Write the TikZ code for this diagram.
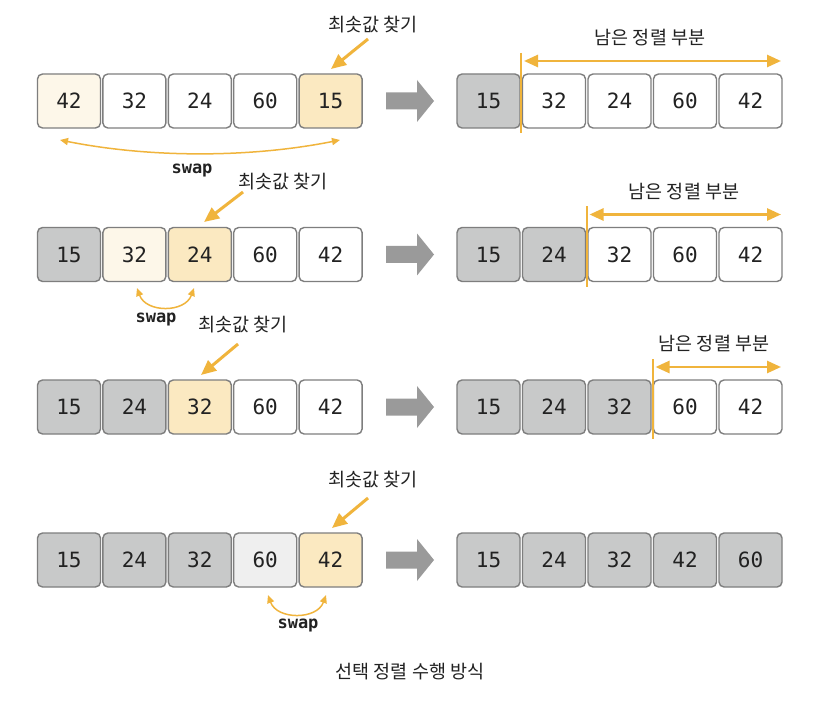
\documentclass[tikz,border=0pt]{standalone}
\usepackage{fontspec}
\setmonofont{DejaVu Sans Mono}
\newfontfamily\kr{Noto Sans CJK KR}
\usetikzlibrary{arrows.meta}
\definecolor{boxline}{HTML}{7E7E7E}
\definecolor{donegray}{HTML}{C8C9C9}
\definecolor{lightyel}{HTML}{FDF7E9}
\definecolor{midyel}{HTML}{FBE9C1}
\definecolor{pale}{HTML}{EFEFEF}
\definecolor{orng}{HTML}{F0B43C}
\definecolor{arrgray}{HTML}{9A9A9A}
\definecolor{txt}{HTML}{222222}
\tikzset{
  cell/.style={draw=boxline, line width=1.4pt, rounded corners=5pt, minimum width=63pt, minimum height=54pt, inner sep=0pt, font=\ttfamily\fontsize{21}{21}\selectfont, text=txt, fill=white},
  krlab/.style={font=\kr\fontsize{18.5}{18.5}\selectfont, text=txt, inner sep=0pt},
  swaplab/.style={font=\ttfamily\bfseries\fontsize{17}{17}\selectfont, text=txt, inner sep=0pt},
  findarr/.style={draw=orng, line width=3pt, -{Triangle[length=15pt,width=13pt]}, shorten >=0pt},
  restarr/.style={draw=orng, line width=2.6pt, {Triangle[length=14pt,width=12pt]}-{Triangle[length=14pt,width=12pt]}},
  divline/.style={draw=orng, line width=2pt},
  swaparr/.style={draw=orng, line width=1.5pt, {Triangle[length=8pt,width=7pt]}-{Triangle[length=8pt,width=7pt]}},
  bigarr/.style={fill=arrgray, draw=none},
}
\begin{document}
\begin{tikzpicture}[x=1pt,y=-1pt]
\useasboundingbox (0,0) rectangle (834,708);
\fill[white] (0,0) rectangle (834,708);

% Row 1
\node[cell, fill=lightyel] (a1) at (69,101) {42};
\node[cell] (a2) at (134.4,101) {32};
\node[cell] (a3) at (199.8,101) {24};
\node[cell] (a4) at (265.2,101) {60};
\node[cell, fill=midyel] (a5) at (330.6,101) {15};
\node[cell, fill=donegray] (b1) at (488.5,101) {15};
\node[cell] (b2) at (554,101) {32};
\node[cell] (b3) at (619.5,101) {24};
\node[cell] (b4) at (685,101) {60};
\node[cell] (b5) at (750.5,101) {42};

% Row 2
\node[cell, fill=donegray] (c1) at (69,254.5) {15};
\node[cell, fill=lightyel] (c2) at (134.4,254.5) {32};
\node[cell, fill=midyel] (c3) at (199.8,254.5) {24};
\node[cell] (c4) at (265.2,254.5) {60};
\node[cell] (c5) at (330.6,254.5) {42};
\node[cell, fill=donegray] (d1) at (488.5,254.5) {15};
\node[cell, fill=donegray] (d2) at (554,254.5) {24};
\node[cell] (d3) at (619.5,254.5) {32};
\node[cell] (d4) at (685,254.5) {60};
\node[cell] (d5) at (750.5,254.5) {42};

% Row 3
\node[cell, fill=donegray] (e1) at (69,407) {15};
\node[cell, fill=donegray] (e2) at (134.4,407) {24};
\node[cell, fill=midyel] (e3) at (199.8,407) {32};
\node[cell] (e4) at (265.2,407) {60};
\node[cell] (e5) at (330.6,407) {42};
\node[cell, fill=donegray] (f1) at (488.5,407) {15};
\node[cell, fill=donegray] (f2) at (554,407) {24};
\node[cell, fill=donegray] (f3) at (619.5,407) {32};
\node[cell] (f4) at (685,407) {60};
\node[cell] (f5) at (750.5,407) {42};

% Row 4
\node[cell, fill=donegray] (g1) at (69,560) {15};
\node[cell, fill=donegray] (g2) at (134.4,560) {24};
\node[cell, fill=donegray] (g3) at (199.8,560) {32};
\node[cell, fill=pale] (g4) at (265.2,560) {60};
\node[cell, fill=midyel] (g5) at (330.6,560) {42};
\node[cell, fill=donegray] (h1) at (488.5,560) {15};
\node[cell, fill=donegray] (h2) at (554,560) {24};
\node[cell, fill=donegray] (h3) at (619.5,560) {32};
\node[cell, fill=donegray] (h4) at (685,560) {42};
\node[cell, fill=donegray] (h5) at (750.5,560) {60};

% ---------- gray transition arrows ----------
\foreach \yy in {101,254.5,407,560}{
  \fill[bigarr] (386,\yy-8.5) -- (417,\yy-8.5) -- (417,\yy-21) -- (434,\yy) -- (417,\yy+21) -- (417,\yy+8.5) -- (386,\yy+8.5) -- cycle;
}

% ---------- "find minimum" labels ----------
\node[krlab] (m1) at (373,25) {최솟값 찾기};
\coordinate (m1s) at (368,39); \coordinate (m1t) at (331,69);
\draw[findarr] (m1s) -- (m1t);

\node[krlab] (m2) at (283,182) {최솟값 찾기};
\coordinate (m2s) at (243,192); \coordinate (m2t) at (204,222);
\draw[findarr] (m2s) -- (m2t);

\node[krlab] (m3) at (243,325) {최솟값 찾기};
\coordinate (m3s) at (238,344); \coordinate (m3t) at (201,375);
\draw[findarr] (m3s) -- (m3t);

\node[krlab] (m4) at (373,480) {최솟값 찾기};
\coordinate (m4s) at (368,498); \coordinate (m4t) at (332,528);
\draw[findarr] (m4s) -- (m4t);

% ---------- swap arcs ----------
\coordinate (s1a) at (60,140); \coordinate (s1b) at (340,140);
\draw[swaparr] (s1a) .. controls (150,158) and (250,158) .. (s1b);
\node[swaplab] (w1) at (192,171) {swap};

\coordinate (s2a) at (137,288); \coordinate (s2b) at (194,288);
\draw[swaparr] (s2a) .. controls (146,313) and (185,313) .. (s2b);
\node[swaplab] (w2) at (156,320) {swap};

\coordinate (s4a) at (268,595); \coordinate (s4b) at (326,595);
\draw[swaparr] (s4a) .. controls (277,620) and (317,620) .. (s4b);
\node[swaplab] (w4) at (298,626) {swap};

% ---------- remaining part markers ----------
\coordinate (v1t) at (521.3,53); \coordinate (v1b) at (521.3,133);
\draw[divline] (v1t) -- (v1b);
\coordinate (r1a) at (524,61); \coordinate (r1b) at (781,61);
\draw[restarr] (r1a) -- (r1b);
\node[krlab] (l1) at (650,38) {남은 정렬 부분};

\coordinate (v2t) at (587,206.5); \coordinate (v2b) at (587,286.5);
\draw[divline] (v2t) -- (v2b);
\coordinate (r2a) at (589.5,214.5); \coordinate (r2b) at (781,214.5);
\draw[restarr] (r2a) -- (r2b);
\node[krlab] (l2) at (684,191.5) {남은 정렬 부분};

\coordinate (v3t) at (653,359); \coordinate (v3b) at (653,439);
\draw[divline] (v3t) -- (v3b);
\coordinate (r3a) at (655.5,367); \coordinate (r3b) at (781,367);
\draw[restarr] (r3a) -- (r3b);
\node[krlab] (l3) at (714,344) {남은 정렬 부분};

% ---------- caption ----------
\node[krlab] (cap) at (410,672) {선택 정렬 수행 방식};
\end{tikzpicture}
\end{document}
